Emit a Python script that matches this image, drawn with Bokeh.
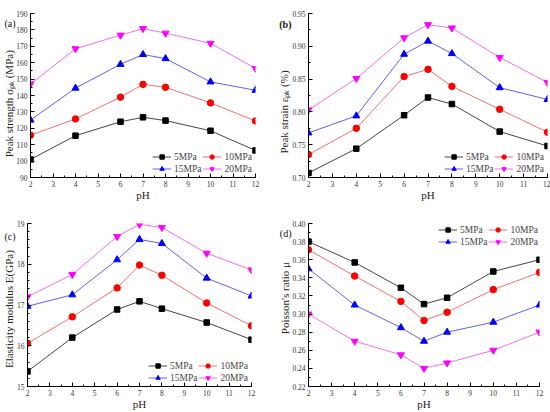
from bokeh.plotting import figure
from bokeh.layouts import column, row
from bokeh.models import (Range1d, SingleIntervalTicker, FixedTicker, NumeralTickFormatter,
                          CustomJSTickFormatter, Legend, LegendItem, LinearAxis)
from bokeh.embed import file_html
from bokeh.resources import INLINE

ph = [2, 4, 6, 7, 8, 10, 12]
series_names = ["5MPa", "10MPa", "15MPa", "20MPa"]

strength_5 = [101, 115.5, 124, 126.7, 124.7, 118.5, 106.5]
strength_10 = [115.8, 125.7, 139, 146.8, 145, 135.5, 124.5]
strength_15 = [125, 144.5, 159, 165, 162.5, 148.3, 143.2]
strength_20 = [147, 168.5, 176.8, 180.8, 178, 171.8, 156.5]

strain_5 = [0.707, 0.744, 0.795, 0.822, 0.812, 0.770, 0.748]
strain_10 = [0.735, 0.775, 0.854, 0.865, 0.839, 0.804, 0.769]
strain_15 = [0.768, 0.794, 0.888, 0.908, 0.889, 0.837, 0.819]
strain_20 = [0.803, 0.851, 0.913, 0.933, 0.928, 0.883, 0.845]

modulus_5 = [15.37, 16.20, 16.89, 17.09, 16.91, 16.57, 16.15]
modulus_10 = [16.06, 16.71, 17.42, 17.98, 17.73, 17.05, 16.49]
modulus_15 = [16.97, 17.25, 18.11, 18.61, 18.51, 17.66, 17.22]
modulus_20 = [17.20, 17.75, 18.68, 18.98, 18.90, 18.27, 17.86]

poisson_5 = [0.380, 0.357, 0.329, 0.311, 0.318, 0.347, 0.360]
poisson_10 = [0.371, 0.342, 0.314, 0.293, 0.302, 0.327, 0.346]
poisson_15 = [0.350, 0.310, 0.285, 0.270, 0.280, 0.291, 0.310]
poisson_20 = [0.300, 0.270, 0.255, 0.240, 0.246, 0.260, 0.280]

FONT = "Liberation Serif"
line_colors = ["#444444", "#f07070", "#6060f0", "#f070f0"]
marker_colors = ["#000000", "#ff0000", "#0000ff", "#ff00ff"]
markers = ["square", "circle", "triangle", "inverted_triangle"]
msizes = [5.5, 6.5, 7, 7]
NB = "\u00a0"


def style_axis(ax):
    ax.axis_line_color = "#000000"
    ax.major_tick_in = 4
    ax.major_tick_out = 0
    ax.minor_tick_in = 2
    ax.minor_tick_out = 0
    ax.major_label_text_font = FONT
    ax.major_label_text_font_size = "7.5px"
    ax.major_label_text_color = "#333333"
    ax.major_label_standoff = 3
    ax.axis_label_text_font = FONT
    ax.axis_label_text_font_size = "11px"
    ax.axis_label_text_font_style = "normal"
    ax.axis_label_text_color = "#222222"


def make_panel(ys, yrange, yint, yminor, yfmt, ytitle, tag, tag_y, tag_bold,
               legend_loc, leg_margin, borders):
    p = figure(width=275, height=206, output_backend="svg", toolbar_location=None,
               x_range=Range1d(2, 12), y_range=Range1d(*yrange),
               min_border_left=borders[0], min_border_right=borders[1],
               min_border_top=borders[2], min_border_bottom=borders[3])
    p.outline_line_color = None
    p.grid.visible = False
    p.background_fill_color = "white"
    p.border_fill_color = "white"
    xa = p.xaxis[0]
    ya = p.yaxis[0]
    xa.ticker = SingleIntervalTicker(interval=1, num_minor_ticks=2)
    ya.ticker = SingleIntervalTicker(interval=yint, num_minor_ticks=yminor)
    if yfmt:
        ya.formatter = NumeralTickFormatter(format=yfmt)
    style_axis(xa)
    style_axis(ya)
    xa.axis_label = "pH"
    xa.axis_label_standoff = -1

    # outer left axis carrying the panel tag and the y title
    tag_axis = LinearAxis(ticker=FixedTicker(ticks=[tag_y], minor_ticks=[]),
                          formatter=CustomJSTickFormatter(code="return '%s';" % tag))
    style_axis(tag_axis)
    tag_axis.axis_line_color = None
    tag_axis.major_tick_line_color = None
    tag_axis.minor_tick_line_color = None
    tag_axis.major_tick_in = 0
    tag_axis.minor_tick_in = 0
    tag_axis.major_label_standoff = -2
    tag_axis.major_label_text_font_size = "10px"
    tag_axis.major_label_text_color = "#111111"
    tag_axis.major_label_text_font_style = "bold" if tag_bold else "normal"
    tag_axis.axis_label = ytitle
    tag_axis.axis_label_standoff = -14
    p.add_layout(tag_axis, "left")

    items = []
    for i, y in enumerate(ys):
        r1 = p.line(ph, y, line_color=line_colors[i], line_width=1)
        r2 = p.scatter(ph, y, marker=markers[i], size=msizes[i],
                       fill_color=marker_colors[i], line_color=marker_colors[i])
        items.append(LegendItem(label=series_names[i], renderers=[r1, r2]))
    order = [items[0], items[2], items[1], items[3]]
    leg = Legend(items=order, location=legend_loc, ncols=2,
                 background_fill_alpha=0, border_line_color=None,
                 label_text_font=FONT, label_text_font_size="9.5px",
                 glyph_width=19, glyph_height=11, label_standoff=3,
                 spacing=1, padding=2, margin=leg_margin, label_height=11)
    p.add_layout(leg)
    return p


fa = make_panel([strength_5, strength_10, strength_15, strength_20],
                (90, 190), 10, 2, None, "Peak strength \u03c3\u209a\u2096 (MPa)" + NB * 6,
                "(a)", 184, False, "bottom_right", 3, (20, 20, 13, 29))
fb = make_panel([strain_5, strain_10, strain_15, strain_20],
                (0.70, 0.9501), 0.05, 2, "0.00", "Peak strain \u03b5\u209a\u2096 (%)" + NB * 12,
                "(b)", 0.934, True, "bottom_right", 3, (20, 3, 6, 24))
fc = make_panel([modulus_5, modulus_10, modulus_15, modulus_20],
                (15, 19), 1, 5, None, "Elasticity modulus E(GPa)" + NB * 3,
                "(c)", 18.68, False, "bottom_right", 3, (20, 24, 17, 24))
fd = make_panel([poisson_5, poisson_10, poisson_15, poisson_20],
                (0.22, 0.40), 0.02, 2, "0.00", NB * 6 + "Poisson's ratio  \u03bc",
                "(d)", 0.389, False, "top_right", 1, (20, 11, 15, 21))

layout = column(row(fa, fb), row(fc, fd))
open("out.html", "w").write(file_html(layout, INLINE))
